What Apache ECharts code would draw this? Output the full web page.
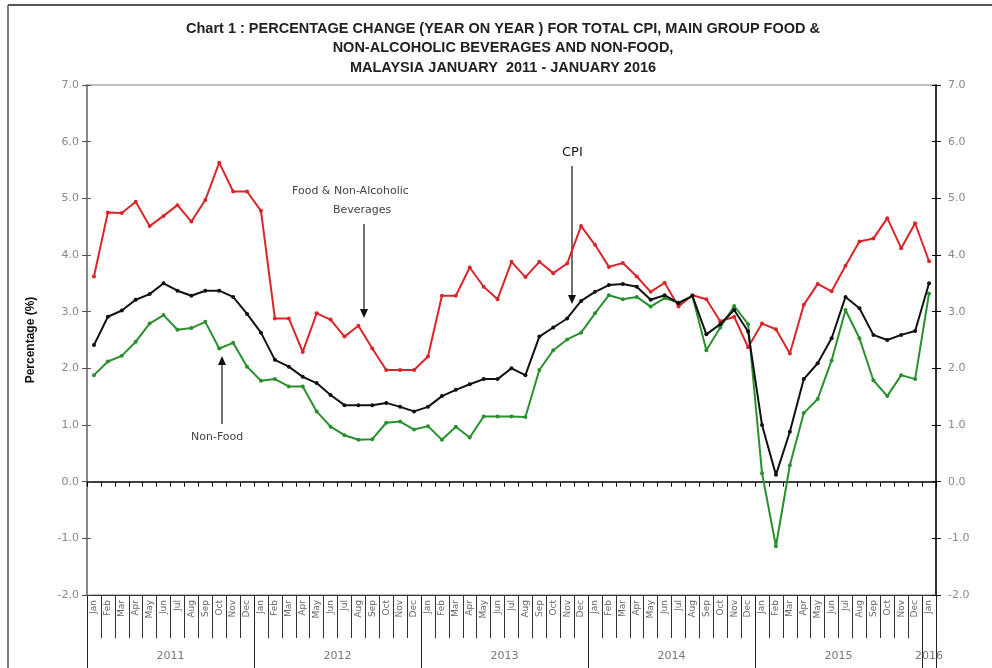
<!DOCTYPE html>
<html>
<head>
<meta charset="utf-8">
<script src="https://cdn.jsdelivr.net/npm/echarts@6/dist/echarts.min.js"></script>
<style>
html,body{margin:0;padding:0;background:#fff;}
#c{width:992px;height:668px;}
</style>
</head>
<body>
<div id="c"></div>
<script>
const monthNames = ['Jan','Feb','Mar','Apr','May','Jun','Jul','Aug','Sep','Oct','Nov','Dec'];
const yearLabels = ['2011','2012','2013','2014','2015','2016'];
const categories = [];
for (let i = 0; i < 61; i++) categories.push(monthNames[i % 12] + ' ' + yearLabels[Math.floor(i / 12)]);

const foodValues = [
  3.62, 4.75, 4.74, 4.94, 4.51, 4.69, 4.88, 4.59, 4.97, 5.63, 5.12, 5.12,
  4.78, 2.88, 2.88, 2.29, 2.97, 2.86, 2.56, 2.75, 2.35, 1.97, 1.97, 1.97,
  2.21, 3.28, 3.28, 3.78, 3.44, 3.22, 3.88, 3.61, 3.88, 3.68, 3.85, 4.51,
  4.18, 3.79, 3.86, 3.62, 3.35, 3.51, 3.09, 3.29, 3.22, 2.83, 2.91, 2.37,
  2.79, 2.69, 2.26, 3.12, 3.49, 3.36, 3.81, 4.24, 4.29, 4.65, 4.12, 4.56,
  3.89
];
const cpiValues = [
  2.41, 2.91, 3.02, 3.21, 3.31, 3.50, 3.37, 3.28, 3.37, 3.37, 3.26, 2.96,
  2.63, 2.15, 2.03, 1.85, 1.74, 1.53, 1.35, 1.35, 1.35, 1.39, 1.32, 1.24,
  1.32, 1.51, 1.62, 1.72, 1.81, 1.81, 2.00, 1.88, 2.56, 2.72, 2.88, 3.19,
  3.35, 3.47, 3.49, 3.44, 3.21, 3.29, 3.15, 3.28, 2.60, 2.78, 3.03, 2.65,
  1.00, 0.12, 0.88, 1.81, 2.09, 2.53, 3.26, 3.06, 2.59, 2.50, 2.59, 2.66,
  3.50
];
const nonFoodValues = [
  1.88, 2.12, 2.22, 2.47, 2.79, 2.94, 2.68, 2.71, 2.82, 2.35, 2.45, 2.03,
  1.78, 1.81, 1.68, 1.68, 1.24, 0.97, 0.82, 0.74, 0.75, 1.04, 1.06, 0.92,
  0.98, 0.74, 0.97, 0.78, 1.15, 1.15, 1.15, 1.14, 1.97, 2.32, 2.51, 2.63,
  2.97, 3.29, 3.22, 3.26, 3.09, 3.24, 3.16, 3.27, 2.32, 2.72, 3.10, 2.78,
  0.15, -1.14, 0.29, 1.21, 1.46, 2.14, 3.03, 2.53, 1.79, 1.51, 1.88, 1.81,
  3.32
];
const titleLines = [
  'Chart 1 : PERCENTAGE CHANGE (YEAR ON YEAR ) FOR TOTAL CPI, MAIN GROUP FOOD &',
  'NON-ALCOHOLIC BEVERAGES AND NON-FOOD,',
  'MALAYSIA JANUARY  2011 - JANUARY 2016'
];
const yMin = -2, yMax = 7, yStep = 1;

const FONT = 'DejaVu Sans';
const gridRect = { left: 87, right: 56, top: 85, bottom: 73 };

const chart = echarts.init(document.getElementById('c'), null, { renderer: 'canvas' });

function yAxisBase(gridIndex, position) {
  return {
    type: 'value', gridIndex: gridIndex, position: position,
    min: yMin, max: yMax, interval: yStep,
    splitLine: { show: false }
  };
}

const option = {
  backgroundColor: '#ffffff',
  animation: false,
  grid: [
    Object.assign({ show: true, borderColor: '#aaaaaa', borderWidth: 1.5, backgroundColor: 'transparent' }, gridRect),
    Object.assign({ show: false }, gridRect)
  ],
  xAxis: [
    {
      type: 'category', gridIndex: 0, data: categories, position: 'top', boundaryGap: true,
      axisLine: { onZero: true, lineStyle: { color: '#000', width: 1.5 } },
      axisTick: { show: true, inside: true, length: 5, interval: 0, lineStyle: { color: '#000' } },
      axisLabel: { show: false }, splitLine: { show: false }
    },
    {
      type: 'category', gridIndex: 0, data: categories, position: 'bottom', boundaryGap: true,
      axisLine: { onZero: false, lineStyle: { color: '#333', width: 1 } },
      axisTick: { show: true, length: 43, interval: 0, lineStyle: { color: '#333' } },
      axisLabel: {
        interval: 0, rotate: 90, fontSize: 9, color: '#666', fontFamily: FONT, margin: 5,
        formatter: function (v, idx) { return monthNames[idx % 12]; }
      },
      splitLine: { show: false }
    },
    {
      type: 'category', gridIndex: 1, data: categories, position: 'bottom', boundaryGap: true,
      axisLine: { show: false, onZero: false },
      axisTick: { show: true, length: 75, interval: function (idx) { return idx % 12 === 0; }, lineStyle: { color: '#222' } },
      axisLabel: {
        interval: function (idx) { return idx % 12 === 6 || idx === 60; },
        margin: 56, fontSize: 11, color: '#777', fontFamily: FONT,
        formatter: function (v, idx) {
          const y = yearLabels[Math.floor(idx / 12)];
          return idx === 60 ? '{e|' + y + '}' : '{m|' + y + '}';
        },
        rich: {
          m: { padding: [0, 14, 0, 0], fontSize: 11, color: '#777', fontFamily: FONT },
          e: { fontSize: 11, color: '#777', fontFamily: FONT }
        }
      },
      splitLine: { show: false }
    }
  ],
  yAxis: [
    Object.assign(yAxisBase(0, 'left'), {
      name: 'Percentage (%)', nameLocation: 'middle', nameGap: 50,
      nameTextStyle: { fontFamily: 'Liberation Sans', fontWeight: 'bold', fontSize: 12, color: '#111' },
      axisLine: { show: true, lineStyle: { color: '#777', width: 1.5 } },
      axisTick: { show: true, length: 5, lineStyle: { color: '#555' } },
      axisLabel: { color: '#888', fontSize: 11, fontFamily: FONT, margin: 8, formatter: function (v) { return v.toFixed(1); } }
    }),
    Object.assign(yAxisBase(0, 'right'), {
      axisLine: { show: true, lineStyle: { color: '#000', width: 1.5 } },
      axisTick: { show: true, length: 5, lineStyle: { color: '#000' } },
      axisLabel: { color: '#888', fontSize: 11, fontFamily: FONT, margin: 12, formatter: function (v) { return v.toFixed(1); } }
    }),
    Object.assign(yAxisBase(1, 'left'), {
      axisLine: { show: false }, axisLabel: { show: false },
      axisTick: { show: true, inside: true, length: 4, lineStyle: { color: '#555' } }
    }),
    Object.assign(yAxisBase(1, 'right'), {
      axisLine: { show: false }, axisLabel: { show: false },
      axisTick: { show: true, inside: true, length: 4, lineStyle: { color: '#000' } }
    })
  ],
  series: [
    {
      name: 'Food & Non-Alcoholic Beverages', type: 'line', xAxisIndex: 1, yAxisIndex: 0,
      data: foodValues, symbol: 'circle', symbolSize: 4, showSymbol: true,
      lineStyle: { color: '#d9262a', width: 2 }, itemStyle: { color: '#d9262a' }, z: 3
    },
    {
      name: 'CPI', type: 'line', xAxisIndex: 1, yAxisIndex: 0,
      data: cpiValues, symbol: 'circle', symbolSize: 4, showSymbol: true,
      lineStyle: { color: '#111111', width: 2 }, itemStyle: { color: '#111111' }, z: 4
    },
    {
      name: 'Non-Food', type: 'line', xAxisIndex: 1, yAxisIndex: 0,
      data: nonFoodValues, symbol: 'circle', symbolSize: 4, showSymbol: true,
      lineStyle: { color: '#2a902e', width: 2 }, itemStyle: { color: '#2a902e' }, z: 3
    }
  ],
  graphic: [
    { type: 'line', shape: { x1: 8, y1: 5, x2: 992, y2: 5 }, style: { stroke: '#555', lineWidth: 2 } },
    { type: 'line', shape: { x1: 8, y1: 5, x2: 8, y2: 668 }, style: { stroke: '#555', lineWidth: 1.5 } },
    // Title
    { type: 'text', x: 503, y: 19, style: { text: titleLines.join('\n'), align: 'center', verticalAlign: 'top', textAlign: 'center', textVerticalAlign: 'top', font: 'bold 14.5px Liberation Sans', fill: '#222', lineHeight: 19.5 } },
    // Food annotation
    { type: 'text', left: 292, top: 186, style: { text: 'Food & Non-Alcoholic', font: '11px ' + FONT, fill: '#444' } },
    { type: 'text', left: 333, top: 205, style: { text: 'Beverages', font: '11px ' + FONT, fill: '#444' } },
    { type: 'line', shape: { x1: 364, y1: 224, x2: 364, y2: 312 }, style: { stroke: '#111', lineWidth: 1.2 } },
    { type: 'polygon', shape: { points: [[360, 309], [368, 309], [364, 318]] }, style: { fill: '#111' } },
    // CPI annotation
    { type: 'text', left: 562, top: 146, style: { text: 'CPI', font: '13px ' + FONT, fill: '#111' } },
    { type: 'line', shape: { x1: 572, y1: 166, x2: 572, y2: 298 }, style: { stroke: '#111', lineWidth: 1.2 } },
    { type: 'polygon', shape: { points: [[568, 295], [576, 295], [572, 304]] }, style: { fill: '#111' } },
    // Non-Food annotation
    { type: 'text', left: 191, top: 432, style: { text: 'Non-Food', font: '11px ' + FONT, fill: '#444' } },
    { type: 'line', shape: { x1: 222, y1: 424, x2: 222, y2: 362 }, style: { stroke: '#111', lineWidth: 1.2 } },
    { type: 'polygon', shape: { points: [[218, 365], [226, 365], [222, 356]] }, style: { fill: '#111' } }
  ]
};
chart.setOption(option);
</script>
</body>
</html>
